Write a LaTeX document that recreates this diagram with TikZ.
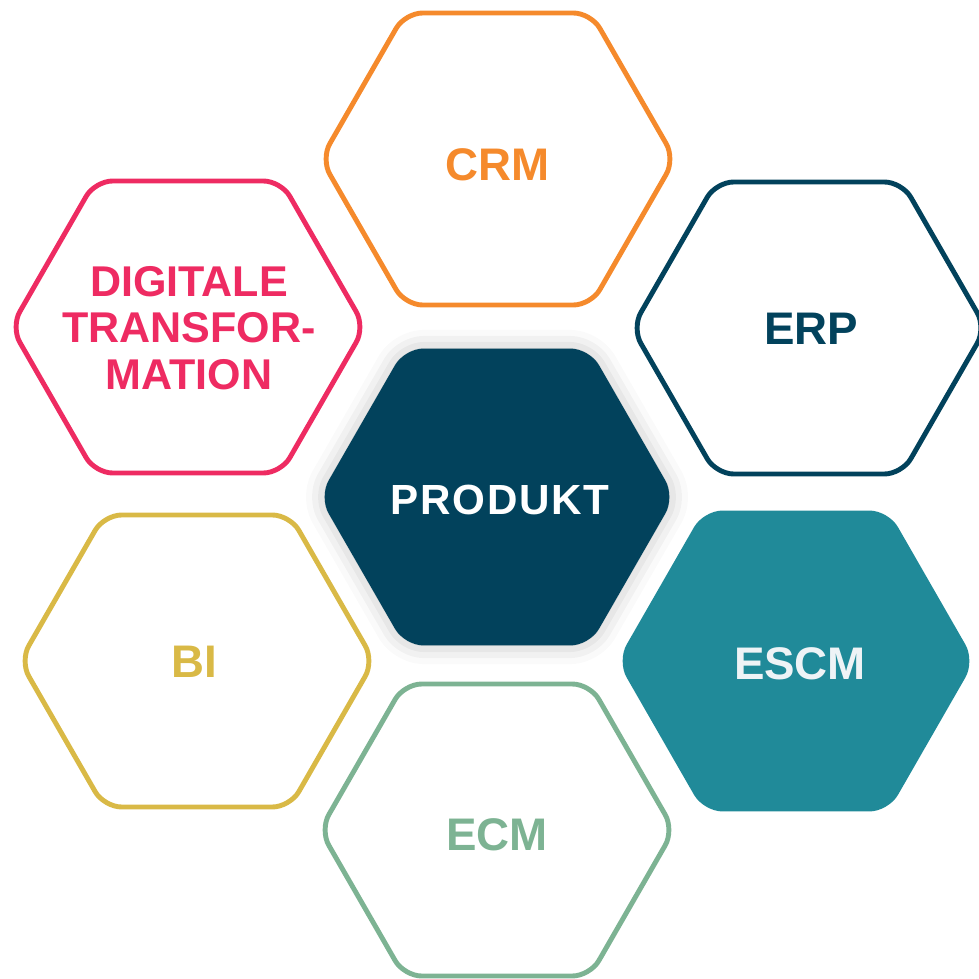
\documentclass[tikz,border=0pt]{standalone}
\usepackage{fontspec}
\setmainfont{Liberation Sans}
\usepackage{xcolor}
\usepackage{tikz}
\usetikzlibrary{shadows.blur}
\definecolor{crmorange}{HTML}{F58A2C}
\definecolor{digipink}{HTML}{EE2B62}
\definecolor{navy}{HTML}{02425C}
\definecolor{biyellow}{HTML}{D9B946}
\definecolor{escmteal}{HTML}{208A99}
\definecolor{ecmgreen}{HTML}{7DB393}
\definecolor{paleblue}{HTML}{EEF3F6}
\tikzstyle{hexline} = [line width=2.8pt,rounded corners=10pt]
\tikzstyle{hextext} = [font=\bfseries\fontsize{26}{30}\selectfont,inner sep=0pt]
\tikzset{hexa/.pic={\path[pic actions] (-177,0) -- (-93,-146) -- (93,-146) -- (177,0) -- (93,146) -- (-93,146) -- cycle;}}

\begin{document}
\begin{tikzpicture}[line cap=round,line join=round,x=0.02cm,y=-0.02cm]
                \useasboundingbox (0,0) rectangle (979,979);
                % outlined hexagons
                \pic[draw=crmorange,hexline] at (498,159) {hexa};
                \pic[draw=digipink,hexline] at (188,327) {hexa};
                \pic[draw=navy,hexline] at (809,328) {hexa};
                \pic[draw=biyellow,hexline] at (197,661) {hexa};
                \pic[draw=ecmgreen,hexline] at (497,830) {hexa};
                % filled hexagons
                \path[shift={(796,661)},draw=escmteal,fill=escmteal,hexline] (-176,0) -- (-91,-148) -- (91,-148) -- (176,0) -- (91,148) -- (-91,148) -- cycle;
                \path[shift={(497,497)},draw=navy,fill=navy,hexline,blur shadow={shadow xshift=0pt,shadow yshift=0pt,shadow blur radius=12pt,shadow opacity=30}] (-175,0) -- (-91,-146) -- (91,-146) -- (175,0) -- (91,146) -- (-91,146) -- cycle;
                % texts
                \node[hextext,text=crmorange] (crm) at (498,165) {CRM};
                \node[hextext,text=digipink,align=center,font=\bfseries\fontsize{24.5}{26.6}\selectfont] (digital) at (189,328) {DIGITALE\\TRANSFOR-\\MATION};
                \node[hextext,text=navy] (erp) at (811,329) {ERP};
                \node[hextext,text=white,font=\bfseries\fontsize{24}{28}\selectfont] (produkt) at (500,500) {\addfontfeature{LetterSpace=4}PRODUKT};
                \node[hextext,text=biyellow] (bi) at (194,662) {BI};
                \node[hextext,text=paleblue] (escm) at (800,664) {ESCM};
                \node[hextext,text=ecmgreen] (ecm) at (497,835) {ECM};
            \end{tikzpicture}
\end{document}
